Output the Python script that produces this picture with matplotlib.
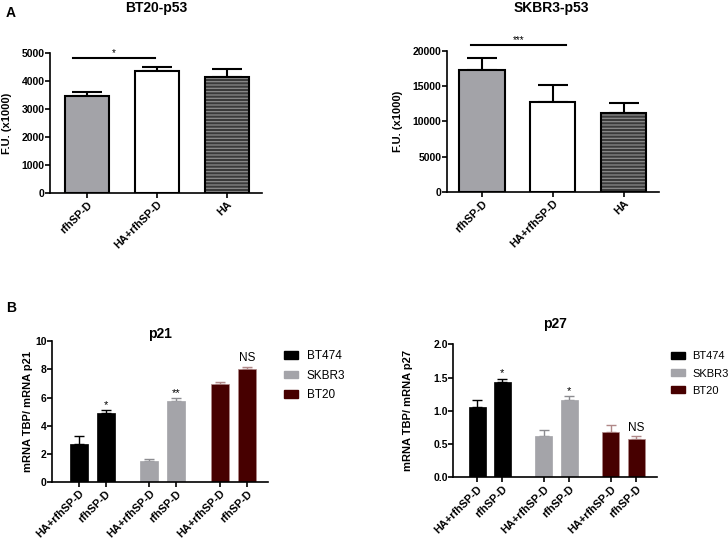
import numpy as np
import matplotlib
matplotlib.use('Agg')
import matplotlib.pyplot as plt
from matplotlib.patches import Patch

plt.rcParams['font.family'] = ['Liberation Sans', 'DejaVu Sans']
plt.rcParams['hatch.linewidth'] = 0.9

# panel A data
a_groups = ['rfhSP-D', 'HA+rfhSP-D', 'HA']
bt20_p53 = [3470, 4370, 4150]
bt20_p53_err = [135, 115, 265]
skbr3_p53 = [17230, 12800, 11200]
skbr3_p53_err = [1740, 2330, 1420]

# panel B data
cell_lines = ['BT474', 'SKBR3', 'BT20']
treatments = ['HA+rfhSP-D', 'rfhSP-D']
p21_vals = [[2.70, 4.93], [1.49, 5.76], [6.97, 8.01]]
p21_err = [[0.59, 0.19], [0.15, 0.19], [0.12, 0.19]]
p21_marks = ['*', '**', 'NS']
p27_vals = [[1.05, 1.44], [0.62, 1.16], [0.68, 0.57]]
p27_err = [[0.105, 0.045], [0.085, 0.055], [0.105, 0.046]]
p27_marks = ['*', '*', 'NS']

line_colors = ['#000000', '#a4a4a9', '#470000']
err_colors = ['#000000', '#8c8c90', '#b08888']

fig = plt.figure(figsize=(7.28, 5.42), dpi=100)


def style_axes(ax, ylab_x):
    for s in ['top', 'right']:
        ax.spines[s].set_visible(False)
    for s in ['left', 'bottom']:
        ax.spines[s].set_linewidth(1.2)
    ax.tick_params(axis='y', width=1.2, length=3.3, labelsize=7.5, pad=0.5)
    ax.tick_params(axis='x', width=1.2, length=3.5, labelsize=7.8, pad=1.2)
    for lab in ax.get_yticklabels() + ax.get_xticklabels():
        lab.set_fontweight('bold')
    ax.yaxis.set_label_coords(ylab_x, 0.5)


def panel_a(rect, vals, errs, ylim, yticks, xlim, sig_x, sig_y, sig_txt, title, title_xy,
            ylab_x):
    ax = fig.add_axes(rect)
    x = np.arange(len(vals))
    w = 0.64
    faces = ['#a3a3a8', 'white', '#3a3a3a']
    ax.bar(x[:2], vals[:2], w, color=faces[:2], edgecolor='black', linewidth=1.5, zorder=2)
    ax.bar(x[2], vals[2], w, color=faces[2], edgecolor='#8a8a8a', linewidth=0,
           hatch='-----', zorder=2)
    ax.bar(x[2], vals[2], w, fill=False, edgecolor='black', linewidth=1.5, zorder=3)
    ax.errorbar(x, vals, yerr=[np.zeros(len(vals)), errs], fmt='none', ecolor='black',
                elinewidth=1.5, capsize=11, capthick=1.5, zorder=1)
    ax.set_xlim(*xlim)
    ax.set_ylim(*ylim)
    ax.set_yticks(yticks)
    ax.set_xticks(x)
    ax.set_xticklabels(a_groups, rotation=45, ha='right', rotation_mode='anchor')
    ax.set_ylabel('F.U. (x1000)', fontsize=8, fontweight='bold')
    ax.plot(sig_x, [sig_y, sig_y], color='black', lw=1.5, clip_on=False)
    ax.text(np.mean(sig_x), sig_y, sig_txt, ha='center', va='bottom', fontsize=7)
    style_axes(ax, ylab_x)
    fig.text(title_xy[0], title_xy[1], title, ha='center', va='center',
             fontsize=10, fontweight='bold')
    return ax


def panel_b(rect, vals, errs, marks, ylim, yticks, fmt, xlim, gene, title_y, leg_xy,
            mark_off, ylab_x, leg_fs):
    ax = fig.add_axes(rect)
    w = 0.255
    ticks, labels = [], []
    for g, line in enumerate(cell_lines):
        xs = g + np.array([0.0, 0.38])
        ax.bar(xs, vals[g], w, color=line_colors[g],
               edgecolor=err_colors[g] if g == 2 else line_colors[g], linewidth=0.5, zorder=2)
        ax.errorbar(xs, vals[g], yerr=[[0, 0], errs[g]], fmt='none', ecolor=err_colors[g],
                    elinewidth=1.0, capsize=3.5, capthick=1.0, zorder=1)
        top = vals[g][1] + errs[g][1]
        if marks[g] == 'NS':
            ax.text(xs[1], top + mark_off * 0.2, 'NS', ha='center', va='bottom', fontsize=8.5)
        else:
            ax.text(xs[1], top, marks[g], ha='center', va='bottom', fontsize=8)
        ticks.extend(xs)
        labels.extend(treatments)
    ax.set_xlim(*xlim)
    ax.set_ylim(*ylim)
    ax.set_yticks(yticks)
    ax.set_yticklabels([fmt.format(t) for t in yticks])
    ax.set_xticks(ticks)
    ax.set_xticklabels(labels, rotation=45, ha='right', rotation_mode='anchor')
    ax.set_ylabel('mRNA TBP/ mRNA ' + gene, fontsize=8, fontweight='bold')
    ax.set_title(gene, fontsize=10, fontweight='bold', pad=title_y)
    style_axes(ax, ylab_x)
    handles = [Patch(facecolor=c, edgecolor=c) for c in line_colors]
    fig.legend(handles, cell_lines, loc='upper left', bbox_to_anchor=leg_xy, frameon=False,
               fontsize=leg_fs, handlelength=1.2, handleheight=0.6, labelspacing=0.65,
               handletextpad=0.7, borderaxespad=0)
    return ax


panel_a([0.0687, 0.6439, 0.2912, 0.2583], bt20_p53, bt20_p53_err, (0, 5000),
        [0, 1000, 2000, 3000, 4000, 5000], (-0.53, 2.5), [-0.2, 0.97], 4830, '*',
        'BT20-p53', (0.214, 0.986), -0.179)
panel_a([0.6136, 0.6458, 0.2916, 0.2607], skbr3_p53, skbr3_p53_err, (0, 20000),
        [0, 5000, 10000, 15000, 20000], (-0.5, 2.5), [-0.15, 1.18], 20800, '***',
        'SKBR3-p53', (0.758, 0.986), -0.206)

panel_b([0.0714, 0.1107, 0.2967, 0.2596], p21_vals, p21_err, p21_marks, (0, 10),
        [0, 2, 4, 6, 8, 10], '{:g}', (-0.38, 2.68), 'p21', 2, (0.384, 0.363), 1.0,
        -0.088, 8.5)
panel_b([0.6227, 0.1194, 0.2794, 0.2454], p27_vals, p27_err, p27_marks, (0, 2.0),
        [0.0, 0.5, 1.0, 1.5, 2.0], '{:.1f}', (-0.355, 2.69), 'p27', 12, (0.916, 0.36), 0.2,
        -0.198, 8.0)

fig.text(0.008, 0.976, 'A', fontsize=10, fontweight='bold', va='center')
fig.text(0.008, 0.432, 'B', fontsize=10, fontweight='bold', va='center')

fig.savefig('out.png', dpi=100)
